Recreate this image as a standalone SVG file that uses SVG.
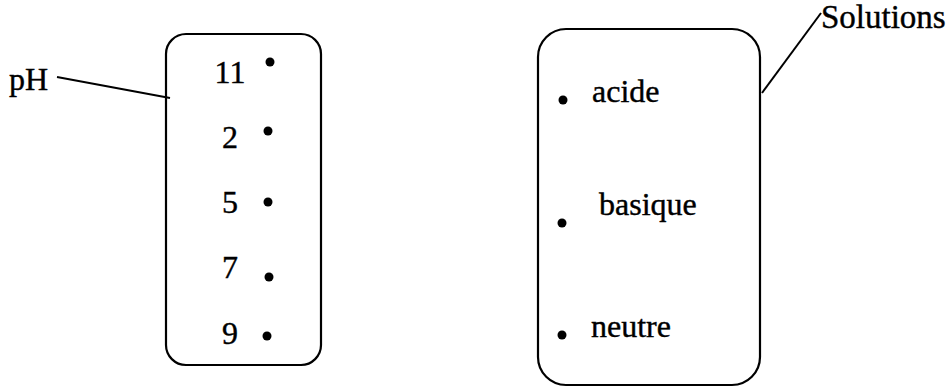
<svg xmlns="http://www.w3.org/2000/svg" width="950" height="387" viewBox="0 0 950 387">
<style>
.box{fill:none;stroke:#000;stroke-width:2.2}
.ln{fill:none;stroke:#000;stroke-width:2}
.t{font-family:"Liberation Serif",serif;font-size:32px;fill:#000;stroke:#000;stroke-width:0.4}
.m{text-anchor:middle}
.d{fill:#000}
</style>
<rect width="950" height="387" fill="#fff"/>
<g id="connectors">
<line class="ln" x1="57" y1="77" x2="170" y2="98"/>
<line class="ln" x1="762" y1="93" x2="821" y2="13"/>
</g>
<g id="pH-label"><text class="t" x="9" y="90">pH</text></g>
<g id="solutions-label"><text class="t" x="821" y="28" style="font-size:33px">Solutions</text></g>
<g id="pH-box">
<rect class="box" x="166" y="34" width="155" height="331" rx="20"/>
<text class="t m" x="230" y="83">11</text><circle class="d" cx="270" cy="62" r="4.5"/>
<text class="t m" x="230" y="148">2</text><circle class="d" cx="268" cy="131" r="4.5"/>
<text class="t m" x="230" y="213">5</text><circle class="d" cx="268" cy="202" r="4.5"/>
<text class="t m" x="230" y="278">7</text><circle class="d" cx="269" cy="277" r="4.5"/>
<text class="t m" x="230" y="344">9</text><circle class="d" cx="267" cy="336" r="4.5"/>
</g>
<g id="solutions-box">
<rect class="box" x="538" y="29" width="222" height="356" rx="28"/>
<circle class="d" cx="563" cy="100" r="4.5"/><text class="t" x="592" y="102">acide</text>
<circle class="d" cx="562" cy="223" r="4.5"/><text class="t" x="599" y="215">basique</text>
<circle class="d" cx="562" cy="335" r="4.5"/><text class="t" x="591" y="337">neutre</text>
</g>
</svg>
